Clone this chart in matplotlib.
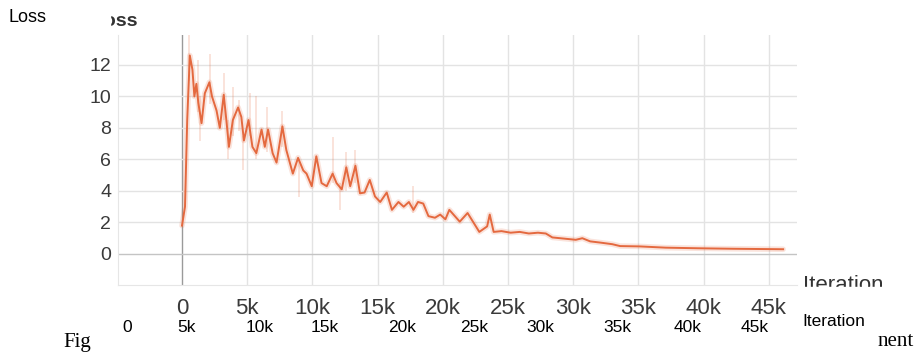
"""
Loss curve screenshot (TensorBoard style) with overlaid axis labels
"""

import matplotlib.pyplot as plt
from matplotlib.patches import Rectangle

# training steps in thousands and the smoothed loss
steps_k = [0, 0.23, 0.4, 0.6, 0.8, 0.95, 1.1, 1.25, 1.5, 1.75,
           2.1, 2.3, 2.65, 2.9, 3.2, 3.4, 3.6, 3.9, 4.3, 4.55,
           4.75, 5.1, 5.4, 5.7, 6.1, 6.35, 6.6, 6.95, 7.25, 7.7,
           8.0, 8.5, 8.9, 9.3, 9.55, 9.95, 10.3, 10.7, 11.1, 11.55,
           11.85, 12.25, 12.6, 12.9, 13.3, 13.65, 14.0, 14.4, 14.8, 15.2,
           15.7, 16.1, 16.6, 17.0, 17.4, 17.75, 18.1, 18.5, 18.9, 19.4,
           19.8, 20.2, 20.5, 21.3, 21.9, 22.8, 23.4, 23.6, 23.9, 24.5,
           25.2, 25.9, 26.6, 27.3, 27.9, 28.4, 29.0, 29.6, 30.2, 30.7,
           31.3, 32.1, 33.0, 33.6, 35.1, 37.1, 39.7, 42.3, 46.1]
loss = [1.8, 3.0, 8.5, 12.6, 11.7, 10.0, 10.8, 9.6, 8.3, 10.2,
        10.9, 10.0, 9.1, 8.0, 10.1, 8.5, 6.8, 8.5, 9.3, 8.7,
        7.2, 8.5, 6.8, 6.4, 7.9, 6.8, 7.9, 6.4, 5.8, 8.1,
        6.6, 5.1, 6.1, 5.3, 5.1, 4.3, 6.2, 4.5, 4.3, 5.1,
        4.5, 4.1, 5.5, 4.3, 5.6, 3.85, 3.9, 4.7, 3.65, 3.3,
        3.9, 2.8, 3.3, 3.0, 3.3, 2.8, 3.3, 3.2, 2.4, 2.3,
        2.5, 2.2, 2.8, 2.05, 2.6, 1.4, 1.75, 2.5, 1.4, 1.45,
        1.35, 1.4, 1.3, 1.35, 1.3, 1.05, 1.0, 0.95, 0.9, 1.0,
        0.8, 0.72, 0.62, 0.5, 0.48, 0.4, 0.36, 0.33, 0.3]

# faint raw (unsmoothed) spikes around the smoothed curve
raw_steps_k = [0.56, 1.25, 1.4, 2.15, 3.2, 3.5, 3.9, 4.4, 4.7, 5.2,
               5.7, 6.55, 7.65, 9.0, 11.55, 12.1, 12.6, 13.3, 17.75]
raw_hi = [13.9, 12.3, 10.0, 12.7, 11.5, 8.5, 10.6, 9.8, 7.5, 10.2,
          10.0, 9.35, 9.1, 6.0, 7.45, 4.5, 6.5, 6.6, 4.3]
raw_lo = [11.0, 9.0, 7.2, 9.5, 8.5, 6.0, 7.5, 7.8, 5.3, 7.5,
          6.0, 6.5, 6.8, 3.6, 4.5, 2.8, 4.0, 4.5, 2.6]

xticks_k = [0, 5, 10, 15, 20, 25, 30, 35, 40, 45]
xtick_labels = ['0', '5k', '10k', '15k', '20k', '25k', '30k', '35k', '40k', '45k']
yticks = [0, 2, 4, 6, 8, 10, 12]

# overlay labels (second row of ticks) and their pixel positions
overlay_labels = ['0', '5k', '10k', '15k', '20k', '25k', '30k', '35k', '40k', '45k']
overlay_x = [127, 187, 260, 325, 402, 474, 540, 617, 688, 755]

W, H = 915, 356
sans = ['Liberation Sans', 'DejaVu Sans']
orange = '#e4693f'


def fx(x):
    return x / W


def fy(y):
    return 1 - y / H


fig = plt.figure(figsize=(W / 100, H / 100), dpi=100)
ax = fig.add_axes([fx(118), fy(285), fx(797) - fx(118), fy(35) - fy(285)])

steps = [s * 1000 for s in steps_k]
ax.vlines([s * 1000 for s in raw_steps_k], raw_lo, raw_hi, color=orange,
          lw=1.2, alpha=0.22)
ax.plot(steps, loss, color=orange, lw=4, alpha=0.18, solid_capstyle='round')
ax.plot(steps, loss, color=orange, lw=1.4)

ax.set_xlim(-4908, 47163)
ax.set_ylim(-1.97, 13.9)

for x in xticks_k:
    ax.axvline(x * 1000, color='#9a9a9a' if x == 0 else '#e3e3e3', lw=1.0, zorder=0)
for y in yticks:
    ax.axhline(y, color='#c4c4c4' if y == 0 else '#e3e3e3', lw=1.0, zorder=0)

ax.set_xticks([x * 1000 for x in xticks_k])
ax.set_xticklabels(xtick_labels, family=sans)
ax.set_yticks(yticks)
ax.set_yticklabels([str(v) for v in yticks], family=sans)
ax.tick_params(axis='x', length=0, pad=9, labelsize=16, labelcolor='#3a3a3a')
ax.tick_params(axis='y', length=0, pad=5, labelsize=14, labelcolor='#3a3a3a')

for side in ['top', 'right']:
    ax.spines[side].set_visible(False)
for side in ['left', 'bottom']:
    ax.spines[side].set_color('#e6e6e6')

# chart title of the screenshot, partly covered
fig.text(fx(138), fy(21), 'Loss', ha='right', va='center', fontsize=14,
         color='#333333', family=sans, fontweight='bold')
fig.patches.append(Rectangle((fx(60), fy(32)), fx(50), fy(5) - fy(32),
                             transform=fig.transFigure, color='white', zorder=5))

# axis title of the screenshot, cut at the bottom
fig.text(fx(803), fy(275), 'Iteration', ha='left', va='top', fontsize=16,
         color='#333333', family=sans)
fig.patches.append(Rectangle((fx(795), fy(300)), fx(120), fy(287) - fy(300),
                             transform=fig.transFigure, color='white', zorder=5))

# overlaid labels
fig.text(fx(8), fy(17), 'Loss', ha='left', va='center', fontsize=13,
         color='black', family=sans, zorder=6)
for lab, x in zip(overlay_labels, overlay_x):
    fig.text(fx(x), fy(328), lab, ha='center', va='center', fontsize=12.5,
             color='black', family=sans, zorder=6)
fig.text(fx(802), fy(322), 'Iteration', ha='left', va='center', fontsize=12.5,
         color='black', family=sans, zorder=6)

# fragments of the caption underneath
fig.text(fx(63), fy(342), 'Fig', ha='left', va='center', fontsize=15,
         color='black', family='Liberation Serif')
fig.text(fx(914), fy(342), 'nent', ha='right', va='center', fontsize=15,
         color='black', family='Liberation Serif')

plt.savefig('out.png', dpi=100)
